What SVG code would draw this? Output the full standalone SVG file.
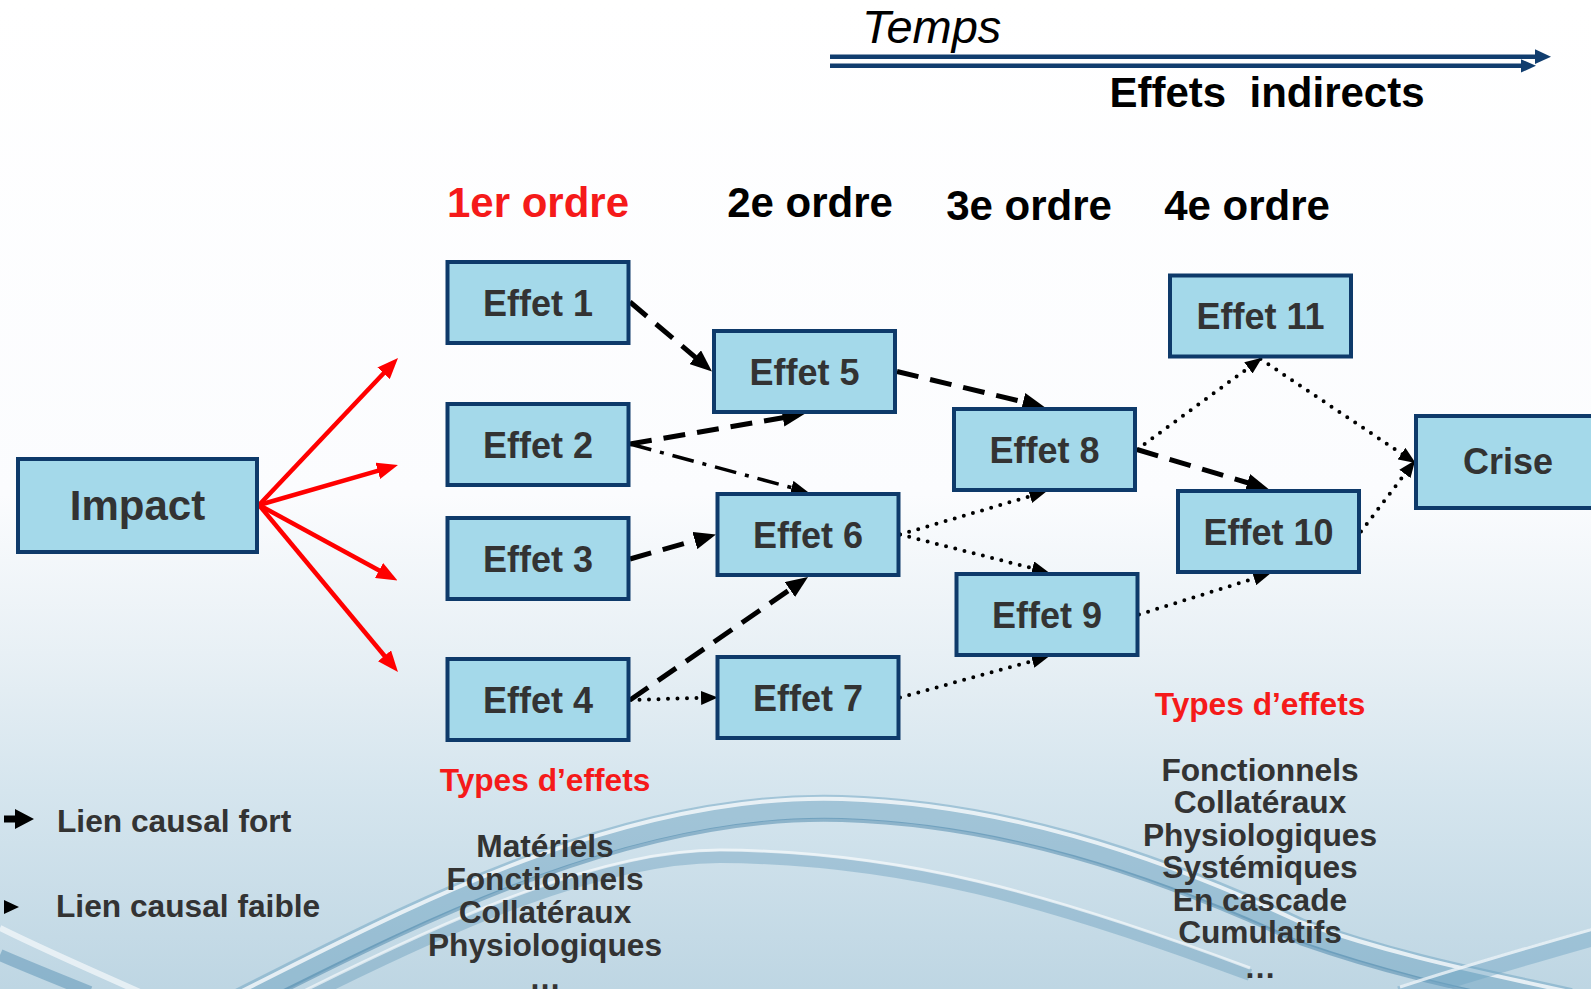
<svg xmlns="http://www.w3.org/2000/svg" width="1591" height="989" viewBox="0 0 1591 989">
<defs>
<linearGradient id="bg" x1="0" y1="0" x2="0" y2="1">
<stop offset="0" stop-color="#FFFFFF"/>
<stop offset="0.5" stop-color="#FBFCFE"/>
<stop offset="0.66" stop-color="#E8F0F5"/>
<stop offset="0.8" stop-color="#D5E5EE"/>
<stop offset="1" stop-color="#BED6E3"/>
</linearGradient>
<marker id="hBig" markerUnits="userSpaceOnUse" markerWidth="22" markerHeight="18" refX="8" refY="9" orient="auto"><path d="M0,0 L22,9 L0,18 z" fill="#000"/></marker>
<marker id="hSmall" markerUnits="userSpaceOnUse" markerWidth="17" markerHeight="14" refX="3" refY="7" orient="auto"><path d="M0,0 L17,7 L0,14 z" fill="#000"/></marker>
<marker id="hRed" markerUnits="userSpaceOnUse" markerWidth="21" markerHeight="17" refX="7" refY="8.5" orient="auto"><path d="M0,0 L21,8.5 L0,17 z" fill="#FF0000"/></marker>
<style>
.box{fill:#A4D9EA;stroke:#0E3A6A;stroke-width:4}
.bt{font-family:"Liberation Sans",Arial,sans-serif;font-weight:bold;font-size:36px;fill:#333333;text-anchor:middle}
.hd{font-family:"Liberation Sans",Arial,sans-serif;font-weight:bold;font-size:42px;fill:#000;text-anchor:middle}
.lst{font-family:"Liberation Sans",Arial,sans-serif;font-weight:bold;font-size:31.7px;fill:#333333;text-anchor:middle}
.red{fill:#F51A1A}
.strong{fill:none;stroke:#000;stroke-width:5;stroke-dasharray:22 12;marker-end:url(#hBig)}
.dd{fill:none;stroke:#000;stroke-width:3.5;stroke-dasharray:22 9 4 9;marker-end:url(#hSmall)}
.dot{fill:none;stroke:#000;stroke-width:4;stroke-linecap:round;stroke-dasharray:0 9.5;marker-end:url(#hSmall)}
.rl{fill:none;stroke:#FF0000;stroke-width:4.5;marker-end:url(#hRed)}
</style>
</defs>
<rect x="0" y="0" width="1591" height="989" fill="url(#bg)"/>
<g id="waves" fill="none">
<path d="M240 1000 C400 920 620 800 842 807 C1000 812 1150 860 1300 930 C1400 965 1480 980 1570 1000" stroke="#5E98BB" stroke-width="24" opacity="0.42"/>
<path d="M240 992 C400 912 620 792 842 799 C1000 804 1150 852 1300 922 C1400 957 1480 972 1570 992" stroke="#FFFFFF" stroke-width="4" opacity="0.75"/>
<path d="M250 1008 C410 928 630 813 842 820 C1000 825 1150 873 1300 943 C1400 978 1480 993 1570 1013" stroke="#3A79A1" stroke-width="4" opacity="0.45"/>
<path d="M300 1000 C450 925 600 857 720 857 C900 858 1050 900 1250 975" stroke="#4A88AE" stroke-width="12" opacity="0.32"/>
<path d="M300 993 C450 918 600 850 720 850 C900 851 1050 893 1250 968" stroke="#FFFFFF" stroke-width="3" opacity="0.6"/>
<path d="M1400 995 C1470 972 1530 955 1600 935" stroke="#6FA5C3" stroke-width="18" opacity="0.45"/>
<path d="M1400 987 C1470 964 1530 947 1600 927" stroke="#FFFFFF" stroke-width="3" opacity="0.7"/>
<path d="M0 928 C40 948 90 970 140 992" stroke="#FFFFFF" stroke-width="6" opacity="0.6"/>
<path d="M0 955 C30 968 60 980 90 992" stroke="#3F7FA8" stroke-width="12" opacity="0.4"/>
</g>
<g id="timeline">
<line x1="830" y1="56.7" x2="1536" y2="56.7" stroke="#103D6E" stroke-width="4.6"/>
<polygon points="1535,49.3 1551,56.7 1535,64" fill="#103D6E"/>
<line x1="830" y1="65.7" x2="1522" y2="65.7" stroke="#103D6E" stroke-width="4.6"/>
<polygon points="1521,59.3 1536,65.7 1521,72.5" fill="#103D6E"/>
<text x="862" y="43" font-family="'Liberation Sans',Arial,sans-serif" font-style="italic" font-size="47" fill="#000">Temps</text>
<text x="1267" y="107" class="hd" style="white-space:pre" xml:space="preserve">Effets  indirects</text>
</g>
<g id="headers">
<text x="538" y="217" class="hd red">1er ordre</text>
<text x="810" y="217" class="hd">2e ordre</text>
<text x="1029" y="220" class="hd">3e ordre</text>
<text x="1247" y="220" class="hd">4e ordre</text>
</g>
<g id="connectors">
<path class="rl" d="M259 505 L388.4 368.2"/>
<path class="rl" d="M259 505 L384.5 468.9"/>
<path class="rl" d="M259 505 L385.2 573.8"/>
<path class="rl" d="M259 505 L389 661.2"/>
<path class="strong" d="M630 302 L701.3 362.4"/>
<path class="strong" d="M630 444 L790.7 416.4"/>
<path class="strong" d="M630 559 L702.5 538.3"/>
<path class="strong" d="M630 700 L796.5 585"/>
<path class="strong" d="M897 371.5 L1030.9 403.7"/>
<path class="strong" d="M1137 449.5 L1255.1 485"/>
<path class="dd" d="M630 444 L794.5 488.4"/>
<path class="dot" d="M630 700 L704 697.8"/>
<path class="dot" d="M900 534.5 L1033 495.4"/>
<path class="dot" d="M900 534.5 L1035.4 569"/>
<path class="dot" d="M900 697.5 L1035.4 660.2"/>
<path class="dot" d="M1137 449.5 L1250.8 366.1"/>
<path class="dot" d="M1260.5 359 L1404 455.3"/>
<path class="dot" d="M1361 531.5 L1406.7 471.5"/>
<path class="dot" d="M1139 614.5 L1257 577.6"/>
</g>
<g id="impact"><rect class="box" x="18" y="459" width="239" height="93"/><text x="137.5" y="520" class="bt" style="font-size:42px">Impact</text></g>
<g id="effet1"><rect class="box" x="447.5" y="262" width="181" height="81"/><text x="538" y="315.5" class="bt">Effet 1</text></g>
<g id="effet2"><rect class="box" x="447.5" y="404" width="181" height="81"/><text x="538" y="457.5" class="bt">Effet 2</text></g>
<g id="effet3"><rect class="box" x="447.5" y="518" width="181" height="81"/><text x="538" y="571.5" class="bt">Effet 3</text></g>
<g id="effet4"><rect class="box" x="447.5" y="659" width="181" height="81"/><text x="538" y="712.5" class="bt">Effet 4</text></g>
<g id="effet5"><rect class="box" x="714" y="331" width="181" height="81"/><text x="804.5" y="384.5" class="bt">Effet 5</text></g>
<g id="effet6"><rect class="box" x="717.5" y="494" width="181" height="81"/><text x="808" y="547.5" class="bt">Effet 6</text></g>
<g id="effet7"><rect class="box" x="717.5" y="657" width="181" height="81"/><text x="808" y="710.5" class="bt">Effet 7</text></g>
<g id="effet8"><rect class="box" x="954" y="409" width="181" height="81"/><text x="1044.5" y="462.5" class="bt">Effet 8</text></g>
<g id="effet9"><rect class="box" x="956.5" y="574" width="181" height="81"/><text x="1047" y="627.5" class="bt">Effet 9</text></g>
<g id="effet10"><rect class="box" x="1178" y="491" width="181" height="81"/><text x="1268.5" y="544.5" class="bt">Effet 10</text></g>
<g id="effet11"><rect class="box" x="1170" y="275.5" width="181" height="81"/><text x="1260.5" y="329" class="bt">Effet 11</text></g>
<g id="crise"><rect class="box" x="1416" y="416" width="200" height="92"/><text x="1508" y="474" class="bt">Crise</text></g>
<g id="legend">
<polygon points="4,815.5 15,815.5 15,809 34,819 15,829 15,822.5 4,822.5" fill="#000"/>
<text x="57" y="832" class="lst" style="text-anchor:start">Lien causal fort</text>
<polygon points="4,900 19,907 4,914" fill="#000"/>
<text x="56" y="917" class="lst" style="text-anchor:start">Lien causal faible</text>
</g>
<g id="types-left">
<text x="545" y="791" class="lst red">Types d’effets</text>
<text x="545" y="857" class="lst">Matériels</text>
<text x="545" y="890" class="lst">Fonctionnels</text>
<text x="545" y="923" class="lst">Collatéraux</text>
<text x="545" y="956" class="lst">Physiologiques</text>
<text x="545" y="989" class="lst">…</text>
</g>
<g id="types-right">
<text x="1260" y="715" class="lst red">Types d’effets</text>
<text x="1260" y="781" class="lst">Fonctionnels</text>
<text x="1260" y="813" class="lst">Collatéraux</text>
<text x="1260" y="846" class="lst">Physiologiques</text>
<text x="1260" y="878" class="lst">Systémiques</text>
<text x="1260" y="911" class="lst">En cascade</text>
<text x="1260" y="943" class="lst">Cumulatifs</text>
<text x="1260" y="978" class="lst">…</text>
</g>
</svg>
